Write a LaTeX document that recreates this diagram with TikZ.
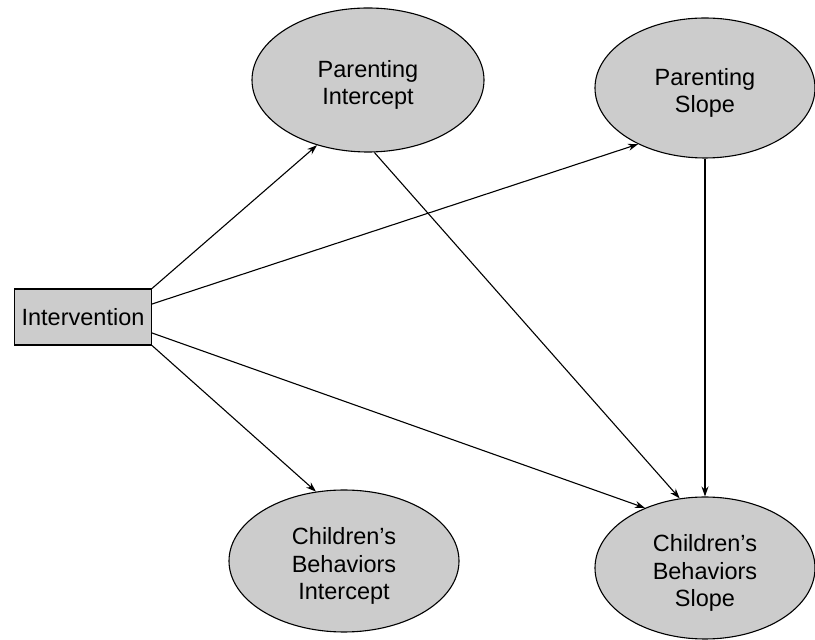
\documentclass[tikz,border=0pt]{standalone}
\usepackage{fontspec}
\setmainfont{Liberation Sans}
\usetikzlibrary{arrows.meta,shapes.geometric}

\tikzset{
  boxfont/.style={font=\fontsize{23.5}{27.5}\selectfont},
  % ellipse with its text set a little below the centre
  latent/.style 2 args={ellipse, draw=black, line width=1.1pt, fill=black!20,
    minimum width=#1, inner sep=0pt,
    label={[boxfont, align=center, yshift=-5pt]center:#2}},
  observed/.style={rectangle, draw=black, line width=1.1pt, fill=black!20,
    minimum width=137pt, minimum height=56pt, inner sep=0pt, boxfont},
  path/.style={draw=black, line width=1.1pt,
    -{Stealth[length=10pt,width=7pt]}}
}

\begin{document}
\begin{tikzpicture}[x=1pt,y=1pt]
  \useasboundingbox (0,0) rectangle (815,640);
  \clip (0,0) rectangle (815,640);

  % observed predictor
  \node[observed] (iv) at (83,323) {Intervention};

  % growth factors
  \node[latent={232pt}{Parenting\\Intercept}, minimum height=144pt] (pi) at (368,560) {};
  \node[latent={220pt}{Parenting\\Slope}, minimum height=140pt] (ps) at (705,552) {};
  \node[latent={230pt}{Children's\\Behaviors\\Intercept}, minimum height=142pt] (cbi) at (344,79) {};
  \node[latent={220pt}{Children's\\Behaviors\\Slope}, minimum height=142pt] (cbs) at (705,72) {};

  % regression paths
  \draw[path] (iv.north east) -- (pi.232);
  \draw[path] ([yshift=13pt]iv.east) -- (ps.220);
  \draw[path] (iv.south east) -- (cbi.112);
  \draw[path] ([yshift=-16pt]iv.east) -- (cbs.135);
  \draw[path] (pi.275) -- (cbs.110);
  \draw[path] (ps.270) -- (cbs.90);
\end{tikzpicture}
\end{document}
